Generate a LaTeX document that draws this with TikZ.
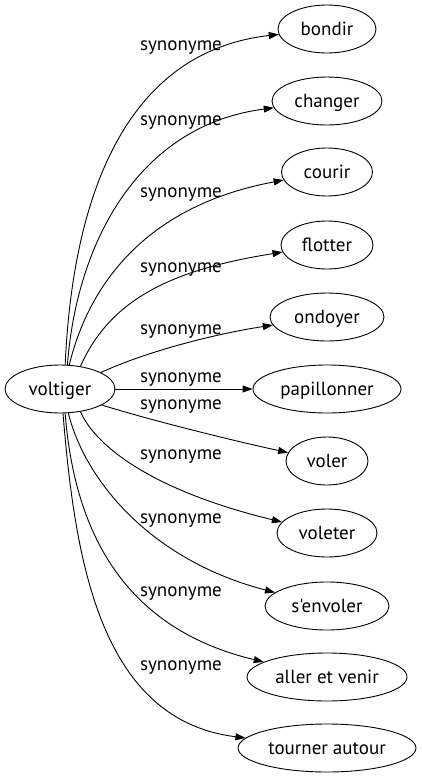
\documentclass[tikz,border=0pt]{standalone}
\usepackage{fontspec}
\newfontfamily\wordfont{PT Sans}
\usetikzlibrary{shapes.geometric,arrows.meta}
\begin{document}
\begin{tikzpicture}[x=1pt,y=-1pt,
  word/.style={ellipse,draw,line width=0.9pt,inner sep=0pt,minimum height=48pt,
    text height=14pt,text depth=2pt,font=\wordfont\fontsize{19}{22}\selectfont},
  rel/.style={anchor=base,inner sep=0pt,font=\wordfont\fontsize{19}{22}\selectfont},
  link/.style={line width=0.9pt,-{Triangle[length=10pt,width=7pt]}}]
\useasboundingbox (0,0) rectangle (421,779);
% nodes
\node[word,minimum width=110pt] (voltiger) at (60,389) {voltiger};
\node[word,minimum width=98pt]  (bondir)   at (327,29) {bondir};
\node[word,minimum width=110pt] (changer)  at (327,101) {changer};
\node[word,minimum width=91pt]  (courir)   at (327,172) {courir};
\node[word,minimum width=92pt]  (flotter)  at (327,245) {flotter};
\node[word,minimum width=114pt] (ondoyer)  at (327,317) {ondoyer};
\node[word,minimum width=148pt] (papillonner) at (327,389) {papillonner};
\node[word,minimum width=82pt]  (voler)    at (327,461) {voler};
\node[word,minimum width=100pt] (voleter)  at (327,533) {voleter};
\node[word,minimum width=124pt] (senvoler) at (327,606) {s'envoler};
\node[word,minimum width=160pt] (aller)    at (327,677) {aller et venir};
\node[word,minimum width=178pt] (tourner)  at (327,748) {tourner autour};
% labels
\node[rel] (l1)  at (181,50)  {synonyme};
\node[rel] (l2)  at (181,125) {synonyme};
\node[rel] (l3)  at (181,197) {synonyme};
\node[rel] (l4)  at (181,272) {synonyme};
\node[rel] (l5)  at (181,334) {synonyme};
\node[rel] (l6)  at (181,382) {synonyme};
\node[rel] (l7)  at (181,409.5) {synonyme};
\node[rel] (l8)  at (181,459) {synonyme};
\node[rel] (l9)  at (181,523) {synonyme};
\node[rel] (l10) at (181,596) {synonyme};
\node[rel] (l11) at (181,670.5) {synonyme};
% edges
\draw[link] (voltiger.78) .. controls (74,170) and (140,50) .. (bondir);
\draw[link] (voltiger.73) .. controls (77,240) and (140,125) .. (changer);
\draw[link] (voltiger.69) .. controls (90,280) and (150,205) .. (courir);
\draw[link] (voltiger.48) .. controls (110,300) and (170,270) .. (flotter);
\draw[link] (voltiger.22) .. controls (150,350) and (220,333) .. (ondoyer);
\draw[link] (voltiger) -- (papillonner);
\draw[link] (voltiger.-21) .. controls (150,420) and (230,440) .. (voler);
\draw[link] (voltiger.-48) .. controls (95,445) and (150,490) .. (voleter);
\draw[link] (voltiger.-71) .. controls (85,480) and (150,560) .. (senvoler);
\draw[link] (voltiger.-78) .. controls (75,540) and (130,630) .. (aller);
\draw[link] (voltiger.-83) .. controls (75,560) and (100,720) .. (tourner);
\end{tikzpicture}
\end{document}
